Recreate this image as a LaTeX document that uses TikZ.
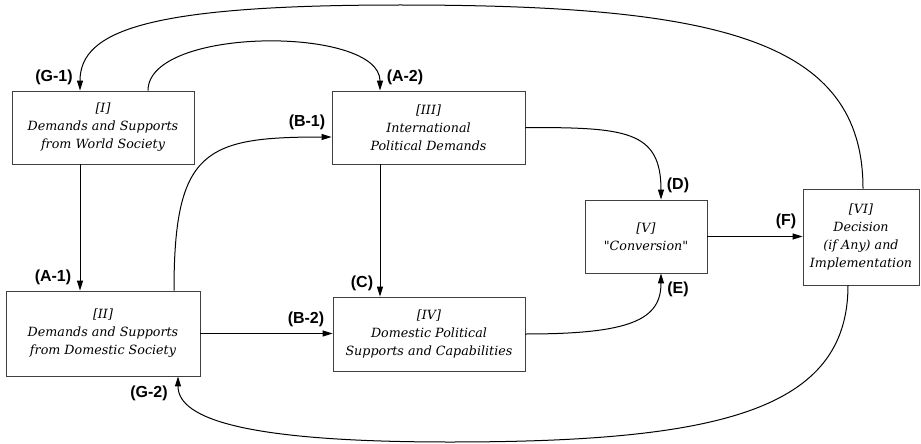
\documentclass[tikz,border=0pt]{standalone}
\usepackage{fontspec}
\setmainfont{DejaVu Serif}
\setsansfont{Liberation Sans}
\usetikzlibrary{arrows.meta}

\tikzset{
  box/.style={draw=black!75, line width=0.8pt, inner sep=0pt, align=center,
    font=\fontsize{12.7}{18}\selectfont\itshape},
  lab/.style={font=\fontsize{16}{16}\selectfont\sffamily\bfseries, inner sep=0pt},
  link/.style={line width=1pt, -{Triangle[length=10pt,width=6pt]}}
}

\begin{document}
\begin{tikzpicture}[x=1pt,y=-1pt]
   \useasboundingbox (0,0) rectangle (921,444);
   \node[box, minimum width=182pt, minimum height=73pt] (I) at (103,127.5)
        {[I]\\ Demands and Supports\\ from World Society};
   \node[box, minimum width=194pt, minimum height=85pt] (II) at (103,333.5)
        {[II]\\ Demands and Supports\\ from Domestic Society};
   \node[box, minimum width=193pt, minimum height=73pt] (III) at (428.5,127.5)
        {[III]\\ International\\ Political Demands};
   \node[box, minimum width=192pt, minimum height=74pt] (IV) at (429,334)
        {[IV]\\ Domestic Political\\ Supports and Capabilities};
   \node[box, minimum width=122pt, minimum height=73pt] (V) at (646,236.5)
        {[V]\\ \textquotedbl Conversion\textquotedbl};
   \node[box, minimum width=116pt, minimum height=96pt] (VI) at (861,237)
        {[VI]\\ Decision\\ (if Any) and\\ Implementation};
   \coordinate (gtop) at (400,5);
   \coordinate (gbot) at (450,442);
   % straight links
   \draw[link] ([xshift=-23pt]I.south) -- ([xshift=-23pt]II.north);
   \draw[link] ([xshift=-48.5pt]III.south) -- ([xshift=-49pt]IV.north);
   \draw[link] (II.east) -- (II.east -| IV.west);
   \draw[link] (V.east) -- (V.east -| VI.west);
   % curved links
   \draw[link] ([xshift=45pt]I.north) .. controls (148,26) and (380,26) .. ([xshift=-48.5pt]III.north);
   \draw[link] ([xshift=71pt]II.north) .. controls (174,150) and (205,137) .. ([yshift=-9.5pt]III.west);
   \draw[link] (III.east) .. controls (625,127.5) and (661,130) .. ([xshift=15pt]V.north);
   \draw[link] (IV.east) .. controls (630,334) and (661,320) .. ([xshift=15pt]V.south);
   \draw[link] ([xshift=2pt]VI.north) .. controls (863,40) and (720,5) .. (gtop)
               .. controls (150,5) and (80,30) .. ([xshift=-23pt]I.north);
   \draw[link] ([xshift=-13pt]VI.south) .. controls (848,410) and (720,442) .. (gbot)
               .. controls (250,442) and (178,420) .. ([xshift=75pt]II.south);
   \foreach \n/\x/\y in {G-1/54/77, A-2/405/77, B-1/307/122, A-1/53/277, C/362/283,
                         B-2/306/319, D/678/185, E/678/289, F/786/221, G-2/149/393}
    \node[lab] (l\n) at (\x,\y) {(\n)};
\end{tikzpicture}
\end{document}
